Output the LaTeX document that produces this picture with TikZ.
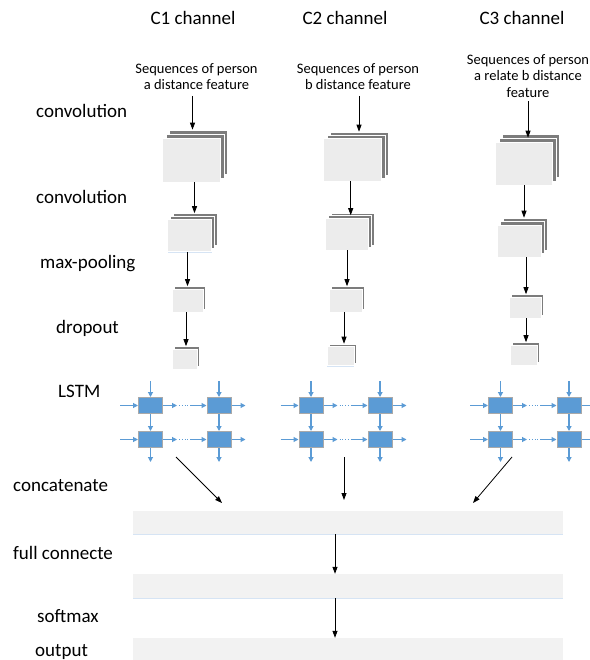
\documentclass[tikz,border=0pt]{standalone}
\usepackage{fontspec}
\setmainfont{Carlito}
\usetikzlibrary{arrows.meta,calc,shadows}
\definecolor{boxgray}{HTML}{ECECEC}
\definecolor{backgray}{HTML}{7C7C7C}
\definecolor{bargray}{HTML}{F2F2F2}
\definecolor{shadeblue}{HTML}{D6E4F4}
\definecolor{cellblue}{HTML}{5B9BD5}
\definecolor{cellrim}{HTML}{A9A9A9}
\definecolor{arrblue}{HTML}{5B9BD5}
\tikzset{
  lbl/.style={font=\fontsize{19}{22}\selectfont, anchor=base west, inner sep=0pt},
  ttl/.style={font=\fontsize{19}{22}\selectfont, anchor=base, inner sep=0pt},
  inp/.style={font=\fontsize{14.5}{16.5}\selectfont, align=center, anchor=north, inner sep=0pt},
  fmap/.style={rectangle, fill=boxgray, draw=white, line width=0.6pt, inner sep=0pt,
     drop shadow={shadow xshift=0.3pt, shadow yshift=-1.2pt, fill=shadeblue, opacity=1}},
  fback/.style={rectangle, fill=backgray, draw=white, line width=0.6pt, inner sep=0pt},
  bar/.style={rectangle, fill=bargray, inner sep=0pt, minimum width=430pt, minimum height=23pt,
     drop shadow={shadow xshift=0pt, shadow yshift=-1.2pt, fill=shadeblue, opacity=1}},
  cell/.style={rectangle, fill=cellblue, draw=cellrim, line width=1pt, inner sep=0pt,
     minimum width=24pt, minimum height=16pt},
  barr/.style={draw=black, line width=0.8pt, -{Triangle[length=7pt,width=5pt]}},
  larr/.style={draw=arrblue, line width=1.1pt, -{Triangle[length=5pt,width=5pt]}},
  ldot/.style={draw=arrblue, line width=0.8pt, dotted},
}
\newcommand{\fstack}[8]{% name, x, y, w, h, n back layers, dx, dy
  \foreach \k in {#6,...,1}{
    \node[fback, minimum width=#4pt, minimum height=#5pt] (#1\k) at ({#2+\k*#7},{#3-\k*#8}) {};
  }
  \node[fmap, minimum width=#4pt, minimum height=#5pt] (#1) at (#2,#3) {};
}
\newcommand{\lstmblock}[3]{% prefix, x1, x2
  \node[cell] (#1a) at (#2,405.5) {};
  \node[cell] (#1b) at (#3,405.5) {};
  \node[cell] (#1c) at (#2,439.5) {};
  \node[cell] (#1d) at (#3,439.5) {};
  \foreach \r/\s in {a/b,c/d}{
    \draw[larr] ($(#1\r.west)+(-18,0)$) -- (#1\r.west);
    \draw[larr] (#1\r.east) -- ++(14,0) coordinate (#1\r o);
    \draw[ldot] ($(#1\r o)+(2,0)$) -- ++(11,0) coordinate (#1\r m);
    \draw[larr] (#1\r m) -- (#1\s.west);
    \draw[larr] (#1\s.east) -- ++(14,0);
  }
  \foreach \r/\s in {a/c,b/d}{
    \draw[larr] ($(#1\r.north)+(0,-16)$) -- (#1\r.north);
    \draw[larr] (#1\r.south) -- (#1\s.north);
    \draw[larr] (#1\s.south) -- ++(0,14);
  }
}
\begin{document}
\begin{tikzpicture}[x=1pt,y=-1pt]
\useasboundingbox (0,0) rectangle (589,660);

% titles
\node[ttl] (t1) at (193,25) {C1 channel};
\node[ttl] (t2) at (345,25) {C2 channel};
\node[ttl] (t3) at (522,25) {C3 channel};

% inputs
\node[inp] (in1) at (196.5,63) {Sequences of person\\a distance feature};
\node[inp] (in2) at (358,63) {Sequences of person\\b distance feature};
\node[inp] (in3) at (528,54) {Sequences of person\\a relate b distance\\feature};

% left labels
\node[lbl] (L1) at (36,118) {convolution};
\node[lbl] (L2) at (36,204) {convolution};
\node[lbl] (L3) at (40,268) {max-pooling};
\node[lbl] (L4) at (56,333) {dropout};
\node[lbl] (L5) at (58,397) {LSTM};
\node[lbl] (L6) at (13,491) {concatenate};
\node[lbl] (L7) at (13,559) {full connecte};
\node[lbl] (L8) at (37,622) {softmax};
\node[lbl] (L9) at (35,656) {output};

% C1 stacks
\fstack{ca}{191.5}{160}{58}{44}{2}{3.5}{4}
\fstack{cb}{189.5}{235.5}{44}{32}{2}{3}{3}
\fstack{cc}{187.5}{300.5}{31}{23}{1}{2.5}{2.5}
\fstack{cd}{184.5}{359}{25}{20}{1}{2.5}{2.5}
% C2 stacks
\fstack{da}{352.5}{159.5}{58}{43}{2}{3.5}{3}
\fstack{db}{347}{234}{43}{32}{2}{3}{2.5}
\fstack{dc}{345.5}{300.5}{33}{23}{1}{2}{2.5}
\fstack{dd}{340.5}{356}{27}{19}{1}{2}{2.5}
% C3 stacks
\fstack{ea}{524}{163.5}{57}{43}{2}{3.5}{4}
\fstack{eb}{519.5}{241}{44}{32}{2}{3}{3.5}
\fstack{ec}{525}{307.5}{32}{21}{1}{2}{2.5}
\fstack{ed}{523.5}{355}{27}{20}{1}{2}{2.5}

% arrows C1
\draw[barr] ($(ca.north |- in1.south)+(1,6)$) -- ($(ca.north |- ca2.north)+(1,0)$);
\draw[barr] ($(cb2.north |- ca.south)+(-1,0)$) -- ($(cb2.north)+(-1,0)$);
\draw[barr] (cc.north |- cb.south) -- (cc1.north -| cc.north);
\draw[barr] ($(cd.north |- cc.south)+(1.5,0)$) -- ($(cd1.north -| cd.north)+(1.5,0)$);
% arrows C2
\draw[barr] ($(da2.north |- in2.south)+(-0.5,6)$) -- ($(da2.north)+(-0.5,0)$);
\draw[barr] ($(db1.north |- da.south)+(0.7,0)$) -- ($(db1.north)+(0.7,0)$);
\draw[barr] ($(dc.north |- db.south)+(1.5,0)$) -- ($(dc1.north -| dc.north)+(1.5,0)$);
\draw[barr] ($(dd1.north |- dc.south)+(1.5,0)$) -- ($(dd1.north)+(1.5,0)$);
% arrows C3
\draw[barr] ($(ea1.north |- in3.south)+(0.5,4)$) -- ($(ea1.north)+(0.5,0)$);
\draw[barr] ($(eb2.north |- ea.south)+(-1.5,0)$) -- ($(eb2.north)+(-1.5,0)$);
\draw[barr] ($(ec.north |- eb.south)+(1,0)$) -- ($(ec1.north -| ec.north)+(1,0)$);
\draw[barr] ($(ed1.north |- ec.south)+(0.5,0)$) -- ($(ed1.north)+(0.5,0)$);

% LSTM blocks
\lstmblock{p}{150.5}{219}
\lstmblock{q}{311}{380}
\lstmblock{r}{500.5}{569}

% bars
\node[bar] (b1) at (348,522.5) {};
\node[bar, minimum height=24pt] (b2) at (348,586) {};
\node[bar, minimum height=24pt] (b3) at (348,650) {};

% concatenation arrows
\coordinate (p1) at (176,457);
\coordinate (p2) at (222,503);
\coordinate (q1) at (344,457);
\coordinate (q2) at (344,500);
\coordinate (r1) at (512,457);
\coordinate (r2) at (473,503);
\draw[barr] (p1) -- (p2);
\draw[barr] (q1) -- (q2);
\draw[barr] (r1) -- (r2);
\draw[barr] ($(b1.south)+(-13,0)$) -- ($(b2.north)+(-13,0)$);
\draw[barr] ($(b2.south)+(-13,0)$) -- ($(b3.north)+(-13,0)$);
\end{tikzpicture}
\end{document}
